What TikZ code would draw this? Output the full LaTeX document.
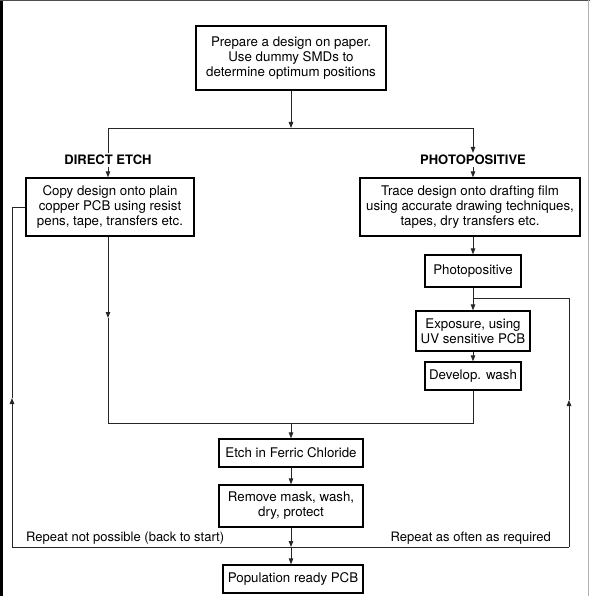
\documentclass[tikz,border=0pt]{standalone}
\usepackage{fontspec}
\setmainfont{TeX Gyre Heros}
\usetikzlibrary{arrows.meta}
\begin{document}
\begin{tikzpicture}[x=1pt,y=-1pt,
  box/.style={draw=black,line width=1.2pt,align=center,inner sep=0pt,font=\fontsize{13.3}{15}\selectfont},
  lbl/.style={font=\bfseries\fontsize{13}{13}\selectfont,inner sep=2pt},
  note/.style={font=\fontsize{13}{13}\selectfont,inner sep=0pt},
  conn/.style={line width=0.9pt,draw=black!85},
  arr/.style={conn,-{Triangle[length=6pt,width=4.5pt]}}]
\useasboundingbox (0,0) rectangle (590,596);
% scan frame
\fill[black] (0,0) rectangle (3,596);
\draw[black!70,line width=1pt] (0,0.5) -- (590,0.5);
\draw[black!30,line width=0.6pt] (588,0) -- (588,596);
% nodes
\node[box,minimum width=190pt,minimum height=64pt] (top) at (291,58) {Prepare a design on paper.\\Use dummy SMDs to\\determine optimum positions};
\node[lbl] (de) at (108,160) {DIRECT ETCH};
\node[lbl] (pp) at (473,160) {PHOTOPOSITIVE};
\node[box,minimum width=168pt,minimum height=58pt] (lbox) at (110,207) {Copy design onto plain\\copper PCB using resist\\pens, tape, transfers etc.};
\node[box,minimum width=220pt,minimum height=58pt] (rbox) at (470,207) {Trace design onto drafting film\\using accurate drawing techniques,\\tapes, dry transfers etc.};
\node[box,minimum width=96pt,minimum height=32pt] (photo) at (473,271) {Photopositive};
\node[box,minimum width=114pt,minimum height=40pt] (expo) at (473,331) {Exposure, using\\UV sensitive PCB};
\node[box,minimum width=96pt,minimum height=28pt] (dev) at (473,376) {Develop. wash};
\node[box,minimum width=144pt,minimum height=28pt] (etch) at (291,453) {Etch in Ferric Chloride};
\node[box,minimum width=144pt,minimum height=42pt] (remove) at (291,506) {Remove mask, wash,\\dry, protect};
\node[box,minimum width=140pt,minimum height=28pt] (pop) at (293,579) {Population ready PCB};
\node[note,anchor=base west] (rn) at (26,541) {Repeat not possible (back to start)};
\node[note,anchor=base east] (ra) at (551,541) {Repeat as often as required};
% coordinates
\coordinate (split) at (291,128);
\coordinate (splitL) at (108,128);
\coordinate (splitR) at (473,128);
\coordinate (br) at (473,298);
\coordinate (brR) at (569,298);
\coordinate (lmid) at (108,318);
\coordinate (mL) at (108,423);
\coordinate (mC) at (291,423);
\coordinate (mR) at (473,423);
\coordinate (bL) at (12,547);
\coordinate (bC) at (291,547);
\coordinate (bR) at (569,547);
\coordinate (lup) at (12,398);
\coordinate (rup) at (569,400);
% connectors
\draw[arr] (top.south) -- (split);
\draw[conn] (splitL) -- (splitR);
\draw[conn] (splitL) -- (de.north);
\draw[arr] (splitR) -- (pp.north);
\draw[arr] (de.south) -- (de.south |- lbox.north);
\draw[arr] (pp.south) -- (pp.south |- rbox.north);
\draw[arr] (photo.north |- rbox.south) -- (photo.north);
\draw[conn] (photo.south) -- (br);
\draw[arr] (br) -- (expo.north);
\draw[arr] (expo.south) -- (dev.north);
\draw[arr] (lmid |- lbox.south) -- (lmid);
\draw[conn] (lmid) -- (mL) -- (mR) -- (dev.south);
\draw[arr] (mC) -- (etch.north);
\draw[arr] (etch.south) -- (remove.north);
\draw[arr] (remove.south) -- (bC);
\draw[arr] (bC) -- (bC |- pop.north);
\draw[conn] (bL) -- (bR);
\draw[arr] (bL) -- (lup);
\draw[conn] (lup) -- (lup |- lbox.west) -- (lbox.west);
\draw[arr] (bR) -- (rup);
\draw[conn] (rup) -- (brR) -- (br);
\end{tikzpicture}
\end{document}
